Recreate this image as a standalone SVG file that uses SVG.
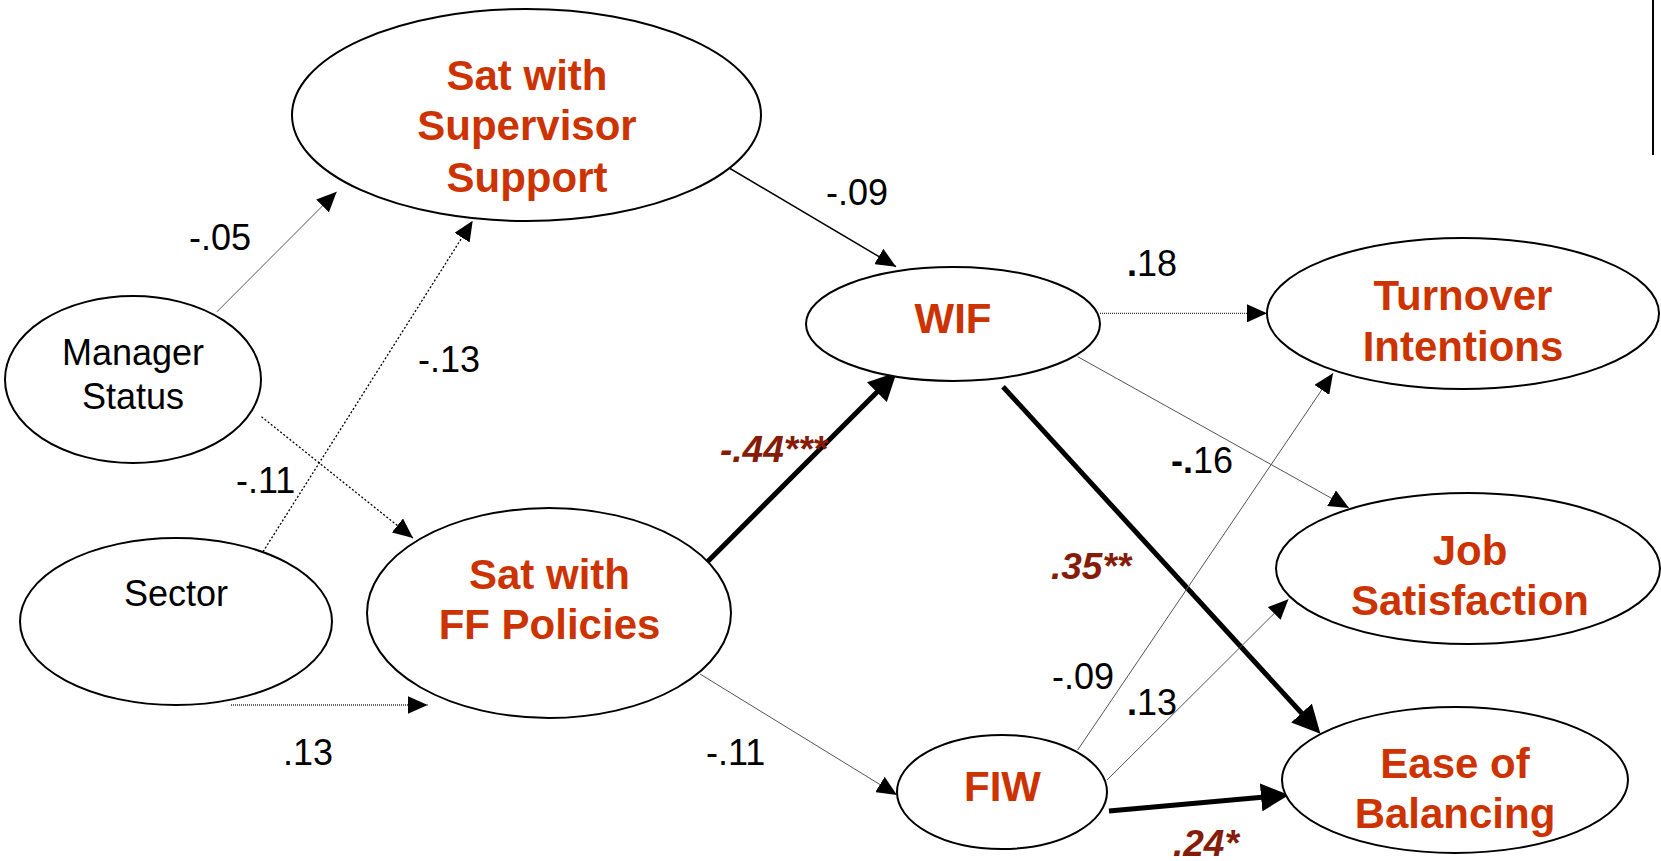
<svg xmlns="http://www.w3.org/2000/svg" width="1661" height="861" viewBox="0 0 1661 861">
<style>
.node ellipse{fill:#fff;stroke:#000;stroke-width:2}
.lat{font-family:"Liberation Sans",Arial,sans-serif;font-weight:bold;font-size:42px;fill:#CC3300;text-anchor:middle}
.obs{font-family:"Liberation Sans",Arial,sans-serif;font-size:36px;fill:#000;text-anchor:middle}
.lbl{font-family:"Liberation Sans",Arial,sans-serif;font-size:36px;fill:#000}
.b{font-weight:bold}
.sig{font-family:"Liberation Sans",Arial,sans-serif;font-size:37px;font-weight:bold;font-style:italic;fill:#841C08}
.thin{stroke:#555;stroke-width:1;fill:none}
.solid{stroke:#000;stroke-width:1.5;fill:none}
.dot{stroke:#000;stroke-width:1.3;stroke-dasharray:2 2;fill:none}
.fine{stroke:#333;stroke-width:1.3;stroke-dasharray:1 1;fill:none}
.thick{stroke:#000;stroke-width:5;fill:none}
</style>
<defs>
<marker id="ah" markerUnits="userSpaceOnUse" markerWidth="20" markerHeight="18" refX="20" refY="9" orient="auto"><path d="M0,0 L20,9 L0,18 z" fill="#000"/></marker>
<marker id="ahb" markerUnits="userSpaceOnUse" markerWidth="28" markerHeight="28" refX="1" refY="14" orient="auto"><path d="M0,0 L28,14 L0,28 z" fill="#000"/></marker>
</defs>
<g id="connectors">
<line class="thin" x1="217" y1="311.7" x2="336.7" y2="191.7" marker-end="url(#ah)"/>
<line class="dot" x1="263" y1="551.7" x2="472.7" y2="220.7" marker-end="url(#ah)"/>
<line class="dot" x1="261.5" y1="416.7" x2="413" y2="538" marker-end="url(#ah)"/>
<line class="fine" x1="231" y1="705" x2="427.7" y2="705" marker-end="url(#ah)"/>
<line class="solid" x1="715.7" y1="160" x2="896" y2="266.7" marker-end="url(#ah)"/>
<line class="thick" x1="702.5" y1="566.7" x2="877.6" y2="391.4" marker-end="url(#ahb)"/>
<line class="thin" x1="700" y1="674" x2="897" y2="795" marker-end="url(#ah)"/>
<line class="fine" x1="1100" y1="313.3" x2="1267" y2="313.3" marker-end="url(#ah)"/>
<line class="thin" x1="1077.7" y1="356.7" x2="1349" y2="508" marker-end="url(#ah)"/>
<line class="thick" x1="1003" y1="386.7" x2="1302.2" y2="713.8" marker-end="url(#ahb)"/>
<line class="thin" x1="1077.7" y1="750" x2="1333" y2="373.3" marker-end="url(#ah)"/>
<line class="thin" x1="1107" y1="780" x2="1288.4" y2="599.3" marker-end="url(#ah)"/>
<line class="thick" x1="1109" y1="811" x2="1262.1" y2="797.3" marker-end="url(#ahb)"/>
</g>
<g id="labels">
<text class="lbl" x="189" y="250">-.05</text>
<text class="lbl" x="418" y="372">-.13</text>
<text class="lbl" x="826" y="205">-.09</text>
<text class="lbl" x="1127" y="276"><tspan class="b">.</tspan>18</text>
<text class="lbl" x="236" y="493">-.11</text>
<text class="lbl" x="283" y="765">.13</text>
<text class="lbl" x="706" y="765">-.11</text>
<text class="lbl" x="1171" y="473"><tspan class="b">-.</tspan>16</text>
<text class="lbl" x="1052" y="689">-.09</text>
<text class="lbl" x="1127" y="715"><tspan class="b">.</tspan>13</text>
<text class="sig" x="720" y="462">-.44***</text>
<text class="sig" x="1051" y="579">.35**</text>
<text class="sig" x="1173" y="856">.24*</text>
</g>
<line x1="1653" y1="0" x2="1653" y2="155" stroke="#000" stroke-width="2"/>
<g id="n_supervisor" class="node"><ellipse cx="526.5" cy="115" rx="234.5" ry="106"/>
<text class="lat" x="527" y="90">Sat with</text><text class="lat" x="527" y="140">Supervisor</text><text class="lat" x="527" y="192">Support</text></g>
<g id="n_manager" class="node"><ellipse cx="133" cy="379.5" rx="128" ry="83.5"/>
<text class="obs" x="133" y="365">Manager</text><text class="obs" x="133" y="409">Status</text></g>
<g id="n_sector" class="node"><ellipse cx="176" cy="621.5" rx="156" ry="83.5"/>
<text class="obs" x="176" y="606">Sector</text></g>
<g id="n_ffpolicies" class="node"><ellipse cx="549" cy="613" rx="182" ry="105"/>
<text class="lat" x="549.5" y="589">Sat with</text><text class="lat" x="549.5" y="639">FF Policies</text></g>
<g id="n_wif" class="node"><ellipse cx="953" cy="324" rx="147" ry="57"/>
<text class="lat" x="953" y="333">WIF</text></g>
<g id="n_fiw" class="node"><ellipse cx="1002" cy="792" rx="105" ry="57"/>
<text class="lat" x="1002.5" y="801">FIW</text></g>
<g id="n_turnover" class="node"><ellipse cx="1463" cy="313.5" rx="196" ry="75.5"/>
<text class="lat" x="1463" y="310">Turnover</text><text class="lat" x="1463" y="361">Intentions</text></g>
<g id="n_jobsat" class="node"><ellipse cx="1468" cy="568.5" rx="192" ry="75.5"/>
<text class="lat" x="1470" y="565">Job</text><text class="lat" x="1470" y="615">Satisfaction</text></g>
<g id="n_ease" class="node"><ellipse cx="1455" cy="780" rx="173" ry="73"/>
<text class="lat" x="1455" y="778">Ease of</text><text class="lat" x="1455" y="828">Balancing</text></g>
</svg>
